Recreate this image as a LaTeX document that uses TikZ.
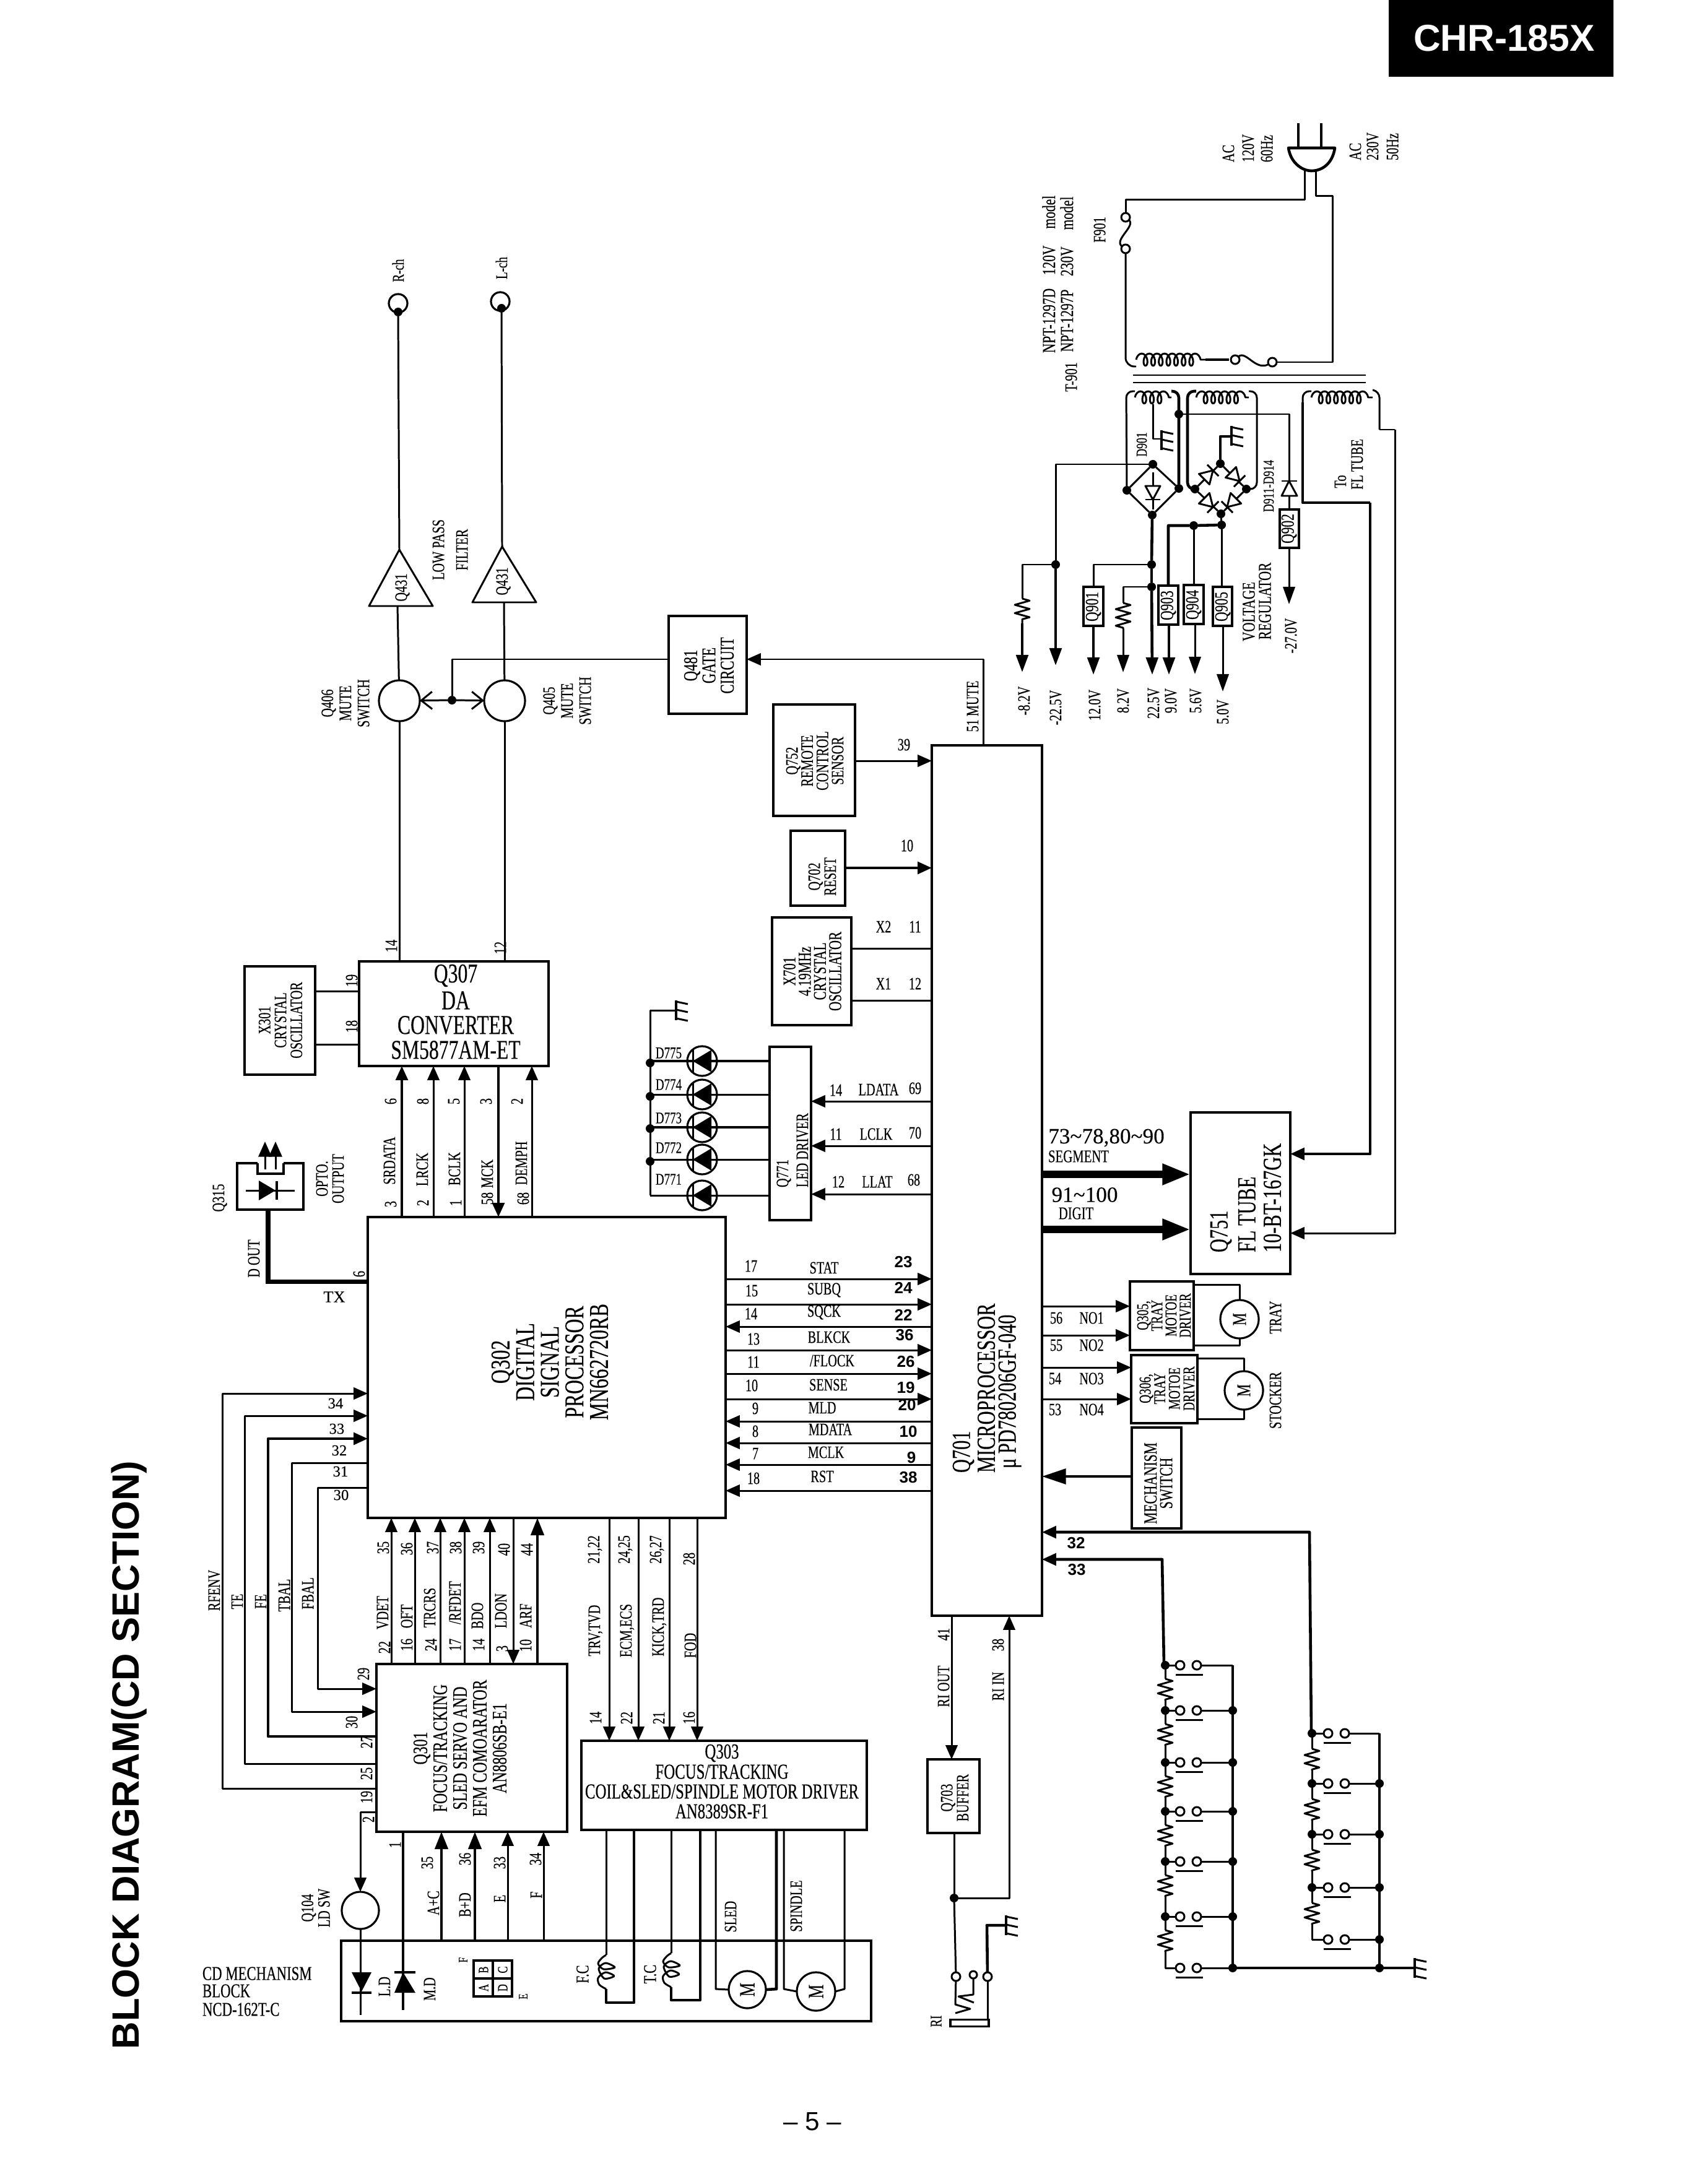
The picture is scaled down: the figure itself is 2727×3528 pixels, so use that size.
\documentclass[tikz,border=0pt]{standalone}
\usepackage{fontspec}
\setmainfont[FakeStretch=0.72,FakeBold=0.2]{Liberation Serif}
\newfontfamily\wsf[FakeBold=0.2]{Liberation Serif}
\newfontfamily\hsf{Liberation Sans}
\usetikzlibrary{arrows.meta,decorations.pathmorphing}
\newcount\tn
\tikzset{
 wire/.style={line width=0.85pt,line join=round},
 thk/.style={line width=1.3pt,line join=round},
 vth/.style={line width=3.4pt},
 ar/.style={-{Triangle[length=6.5pt,width=5.5pt]}},
 arp/.style={-{Triangle[length=8pt,width=5.5pt]}},
 arb/.style={-{Triangle[length=13pt,width=9pt]}},
 arm/.style={-{Triangle[length=8pt,width=6pt]}},
 barb/.style={-{Straight Barb[length=5pt,width=8pt]}},
 box/.style={draw,line width=0.9pt,inner sep=0pt,outer sep=0pt},
 lbl/.style={inner sep=0pt,outer sep=0pt},
 dotn/.style={circle,fill=black,inner sep=0pt,outer sep=0pt,minimum size={14*0.01cm}},
 oc/.style={circle,draw,line width=0.85pt,fill=white,inner sep=0pt,outer sep=0pt,minimum size={14*0.01cm}},
 rnd/.style={circle,draw,line width=0.9pt,inner sep=0pt,outer sep=0pt},
 cl/.style={decorate,decoration={coil,aspect=0.6,amplitude=2.8pt,segment length=3.5pt}},
 zg/.style={decorate,decoration={zigzag,amplitude=3.4pt,segment length=3.8pt}},
}
% text helpers
\newcommand\rtx[4]{\global\advance\tn by 1\relax\node[lbl,rotate=90,font={\fontsize{#1}{#1}\selectfont}] (t\the\tn) at (#2,#3) {#4};}
\newcommand\rtw[4]{\global\advance\tn by 1\relax\node[lbl,rotate=90,anchor=west,font={\fontsize{#1}{#1}\selectfont}] (t\the\tn) at (#2,#3) {#4};}
\newcommand\rml[5]{\global\advance\tn by 1\relax\node[lbl,rotate=90,align=center,font={\fontsize{#1}{#2}\selectfont}] (t\the\tn) at (#3,#4) {#5};}
\newcommand\htx[4]{\global\advance\tn by 1\relax\node[lbl,font={\fontsize{#1}{#1}\selectfont}] (t\the\tn) at (#2,#3) {#4};}
\newcommand\hwd[4]{\global\advance\tn by 1\relax\node[lbl,font={\wsf\fontsize{#1}{#1}\selectfont}] (t\the\tn) at (#2,#3) {#4};}
\newcommand\hlf[4]{\global\advance\tn by 1\relax\node[lbl,anchor=west,font={\fontsize{#1}{#1}\selectfont}] (t\the\tn) at (#2,#3) {#4};}
\newcommand\bnm[3]{\global\advance\tn by 1\relax\node[lbl,font={\hsf\bfseries\fontsize{7.4}{7.4}\selectfont}] (t\the\tn) at (#1,#2) {#3};}
% shapes
\newcommand\bx[6][box]{\node[#1,minimum width={(#5-#3)*0.01cm},minimum height={(#6-#4)*0.01cm}] (#2) at ({(#3+#5)/2},{(#4+#6)/2}) {};}
\newcommand\vc[4][wire]{\draw[#1] (#3 -| #2,0) -- (#4 -| #2,0);}
\newcommand\hc[4][wire]{\draw[#1] (#3 |- 0,#2) -- (#4 |- 0,#2);}
\newcommand\dt[2]{\global\advance\tn by 1\relax\node[dotn] (d\the\tn) at (#1,#2) {};}
\newcommand\gnd[2]{\draw[thk] (#1,{#2-16}) -- (#1,{#2+16});
 \foreach \k in {-14,-1,13}{\draw[wire] (#1,{#2+\k}) -- ({#1+19},{#2+\k+4});}}
\newcommand\dio[3]{\begin{scope}[shift={(#1,#2)},rotate=#3]
 \draw[wire,fill=white] (-10,-12) -- (10,0) -- (-10,12) -- cycle; \draw[wire] (10,-13) -- (10,13);\end{scope}}
\newcommand\zz[3]{\draw[wire,zg] (#1,#2) -- (#1,#3);}
\newcommand\fcoil[2]{\begin{scope}[shift={(#1,#2)}]
 \draw[wire] plot[smooth] coordinates {(979,3158) (972,3163) (966,3172) (975,3181) (993,3178) (978,3171) (967,3180) (976,3196) (992,3192) (978,3186) (966,3195) (968,3206) (979,3213)};\end{scope}}
\newcommand\swt[4]{\global\advance\tn by 1\relax
 \node[oc] (pa\the\tn) at (#3,#2) {};
 \node[oc] (pb\the\tn) at ({#3+27},#2) {};
 \coordinate (la\the\tn) at (#1,#2);
 \coordinate (bu\the\tn) at (#4,#2);
 \draw[wire] (la\the\tn) -- (pa\the\tn);
 \draw[wire] (pb\the\tn) -- (bu\the\tn);
 \draw[wire] ({#3-7},{#2+15}) -- ({#3+37},{#2+15});}
\newcommand\led[2]{\global\advance\tn by 1\relax
 \node[rnd,minimum size={48*0.01cm}] (le\the\tn) at (1134,#1) {};
 \fill (1119,#1) -- (1149,{#1-18}) -- (1149,{#1+18}) -- cycle;
 \draw[wire] (1119,{#1-18}) -- (1119,{#1+18});
 \draw[#2] (q771.west |- 0,#1) -- (1050,#1);}
\begin{document}
\begin{tikzpicture}[x=0.01cm,y=-0.01cm]
\useasboundingbox (0,0) rectangle (2727,3528);
\fill[white] (0,0) rectangle (2727,3528);
% header, title, page number
\node[fill=black,text=white,inner sep=0pt,minimum width={363*0.01cm},minimum height={124*0.01cm},font={\hsf\bfseries\fontsize{17.2}{17.2}\selectfont}] (hdr) at (2424,62) {\hspace*{3pt}CHR-185X};
\node[lbl,rotate=90,font={\hsf\bfseries\fontsize{17.5}{18}\selectfont}] (ttl) at (209,2835) {BLOCK DIAGRAM(CD SECTION)};
\node[lbl,font={\hsf\fontsize{12}{12}\selectfont}] (pg) at (1312,3427) {– 5 –};

% ===== boxes
\bx{q302}{594}{1966}{1172}{2452}
\bx{q307}{580}{1553}{886}{1722}
\bx{x301}{395}{1561}{509}{1736}
\bx{q701}{1505}{1204}{1683}{2610}
\bx{q771}{1243}{1691}{1310}{1971}
\bx{x701}{1247}{1482}{1375}{1656}
\bx{q702}{1277}{1342}{1365}{1463}
\bx{q752}{1249}{1138}{1381}{1318}
\bx{q481}{1080}{995}{1206}{1153}
\bx{q751}{1923}{1797}{2084}{2058}
\bx{q305}{1825}{2070}{1928}{2181}
\bx{q306}{1827}{2189}{1934}{2299}
\bx{mech}{1828}{2306}{1908}{2469}
\bx{q703}{1498}{2842}{1582}{2961}
\bx{q301}{608}{2688}{916}{2959}
\bx{q303}{939}{2812}{1400}{2956}
\bx{cdm}{551}{3135}{1407}{3265}
\bx{q315a}{383}{1879}{490}{1954}
\node[rnd,minimum size={66*0.01cm}] (q406) at (645,1132) {};
\node[rnd,minimum size={66*0.01cm}] (q405) at (815,1132) {};
\node[rnd,minimum size={60*0.01cm}] (q104) at (582,3086) {};
\node[rnd,minimum size={62*0.01cm}] (m305) at (2002,2131) {\rotatebox{90}{\fontsize{9}{9}\selectfont M}};
\node[rnd,minimum size={62*0.01cm}] (m306) at (2009,2246) {\rotatebox{90}{\fontsize{9}{9}\selectfont M}};
\node[rnd,minimum size={60*0.01cm}] (msl) at (1207,3214) {\rotatebox{90}{\fontsize{10}{10}\selectfont M}};
\node[rnd,minimum size={62*0.01cm}] (msp) at (1318,3217) {\rotatebox{90}{\fontsize{10}{10}\selectfont M}};

% ===== audio outputs
\node[rnd,minimum size={30*0.01cm}] (rch) at (643,490) {};
\node[rnd,minimum size={30*0.01cm}] (lch) at (808,487) {};
\node[dotn] (rd) at (643,504) {};
\node[dotn] (ld) at (810,498) {};
\coordinate (ra) at (645,888); \coordinate (rb) at (642,979);
\coordinate (la) at (811,883); \coordinate (lb) at (814,973);
\draw[wire] (ra) -- (699,979) -- (596,979) -- cycle;
\draw[wire] (la) -- (866,973) -- (763,973) -- cycle;
\draw[wire] (rd) -- (ra); \draw[wire] (ld) -- (la);
\draw[wire] (rb) -- (q406); \draw[wire] (lb) -- (q405);
\vc[wire]{645}{q406.south}{q307.north}
\vc[wire]{815}{q405.south}{q307.north}
\node[dotn] (dm) at (730,1131) {};
\draw[wire,barb] (dm) -- (q406);
\draw[wire,barb] (dm) -- (q405);
\draw[wire] (dm) -- (730,1065) -- (q481.west |- 0,1065);
\draw[wire,ar] (q701.north -| 1588,0) -- (1588,1065) -- (q481.east |- 0,1065);
\rtx{7.5}{643}{437}{R-ch}
\rtx{7.5}{810}{433}{L-ch}
\rtx{8}{650}{949}{Q431}
\rtx{8}{813}{939}{Q431}
\rml{8}{10.8}{727}{888}{LOW PASS\\FILTER}
\rml{8}{8.3}{558}{1136}{Q406\\MUTE\\SWITCH}
\rml{8}{8.3}{916}{1132}{Q405\\MUTE\\SWITCH}
\rml{9}{8.4}{1145}{1075}{Q481\\GATE\\CIRCUIT}
\rtx{8}{1571}{1141}{51 MUTE}
\rml{8}{7}{1316}{1229}{Q752\\REMOTE\\CONTROL\\SENSOR}
\hc[wire,ar]{1229}{q752.east}{q701.west}
\htx{8}{1460}{1203}{39}
\rml{8}{7.3}{1328}{1416}{Q702\\RESET}
\hc[thk,ar]{1402}{q702.east}{q701.west}
\htx{8}{1465}{1366}{10}
\rml{8.3}{7}{1312}{1569}{X701\\4.19MHz\\CRYSTAL\\OSCILLATOR}
\hc{1532}{x701.east}{q701.west}
\hc{1616}{x701.east}{q701.west}
\htx{8}{1427}{1497}{X2}\htx{8}{1478}{1497}{11}
\htx{8}{1427}{1589}{X1}\htx{8}{1478}{1589}{12}

% ===== Q307 / X301
\htx{12.5}{736}{1576}{Q307}
\htx{12.5}{736}{1616}{DA}
\htx{12.5}{736}{1656}{CONVERTER}
\htx{12.5}{736}{1696}{SM5877AM-ET}
\rml{8}{7.3}{453}{1648}{X301\\CRYSTAL\\OSCILLATOR}
\hc{1601}{x301.east}{q307.west}
\hc[wire]{1687}{x301.east}{q307.west}
\rtx{8}{568}{1584}{19}\rtx{8}{568}{1658}{18}
\rtx{8}{632}{1528}{14}\rtx{8}{808}{1531}{12}

% ===== Q302 - Q307
\vc[thk,ar]{649}{q302.north}{q307.south}
\vc[wire,ar]{700}{q302.north}{q307.south}
\vc[wire,ar]{750}{q302.north}{q307.south}
\vc[thk,ar]{805}{q307.south}{q302.north}
\vc[wire,ar]{859}{q302.north}{q307.south}
\rtx{8}{631}{1779}{6}\rtx{8}{629}{1875}{SRDATA}\rtx{8}{631}{1945}{3}
\rtx{8}{683}{1779}{8}\rtx{8}{682}{1889}{LRCK}\rtx{8}{683}{1943}{2}
\rtx{8}{733}{1779}{5}\rtx{8}{734}{1888}{BCLK}\rtx{8}{736}{1943}{1}
\rtx{8}{785}{1779}{3}\rtx{8}{787}{1896}{MCK}\rtx{8}{787}{1936}{58}
\rtx{8}{835}{1779}{2}\rtx{8}{842}{1879}{DEMPH}\rtx{8}{845}{1936}{68}

% ===== Q315 opto
\fill[white] (416,1874) rectangle (458,1896);
\draw[box] (416,1879) -- (416,1896) -- (458,1896) -- (458,1879);
\coordinate (o1) at (397,1923); \coordinate (o2) at (476,1923);
\draw[wire] (o1) -- (o2);
\fill (418,1907) -- (445,1923) -- (418,1939) -- cycle;
\draw[thk] (447,1908) -- (447,1938);
\draw[wire,-{Triangle[length=7pt,width=6pt]}] (428,1889) -- (428,1844);
\draw[wire,-{Triangle[length=7pt,width=6pt]}] (445,1889) -- (445,1844);
\rtx{8}{355}{1935}{Q315}
\rml{8}{7.4}{533}{1904}{OPTO.\\OUTPUT}
\draw[line width=2pt] (q315a.south -| 433,0) -- (433,2070) -- (q302.west |- 0,2070);
\rtx{8}{410}{2033}{D OUT}
\rtx{8}{580}{2058}{6}
\hwd{7.5}{540}{2095}{TX}

% ===== Q302 text
\rml{12.5}{11.3}{888}{2200}{Q302\\DIGITAL\\SIGNAL\\PROCESSOR\\MN662720RB}

% ===== Q302 - Q301 left links
\draw[wire,ar] (q301.west |- 0,2889) -- (359,2889) -- (359,2251) -- (q302.west |- 0,2251);
\draw[wire,ar] (q301.west |- 0,2849) -- (395,2849) -- (395,2287) -- (q302.west |- 0,2287);
\draw[thk,ar] (q301.west |- 0,2805) -- (433,2805) -- (433,2324) -- (q302.west |- 0,2324);
\draw[wire,ar] (q302.west |- 0,2363) -- (471,2363) -- (471,2765) -- (q301.west |- 0,2765);
\draw[wire,ar] (q302.west |- 0,2403) -- (513,2403) -- (513,2728) -- (q301.west |- 0,2728);
\hwd{7}{542}{2267}{34}\hwd{7}{544}{2308}{33}\hwd{7}{548}{2343}{32}\hwd{7}{550}{2377}{31}\hwd{7}{551}{2415}{30}
\rtx{8}{346}{2569}{RFENV}\rtx{8}{383}{2587}{TE}\rtx{8}{421}{2587}{FE}\rtx{8}{459}{2577}{TBAL}\rtx{8}{497}{2574}{FBAL}
\rtx{8}{587}{2704}{29}\rtx{8}{568}{2782}{30}\rtx{8}{592}{2814}{27}\rtx{8}{592}{2865}{25}\rtx{8}{592}{2903}{19}\rtx{8}{595}{2939}{2}

% ===== Q301 top
\vc[wire,ar]{632}{q301.north}{q302.south}
\vc[wire,ar]{670}{q301.north}{q302.south}
\vc[wire,ar]{711}{q301.north}{q302.south}
\vc[wire,ar]{750}{q301.north}{q302.south}
\vc[wire,ar]{791}{q301.north}{q302.south}
\vc[wire,ar]{829}{q302.south}{q301.north}
\vc[thk,arm]{868}{q301.north}{q302.south}
\rtx{8}{619}{2500}{35}\rtx{8}{657}{2502}{36}\rtx{8}{699}{2500}{37}\rtx{8}{736}{2500}{38}\rtx{8}{773}{2500}{39}\rtx{8}{814}{2503}{40}\rtx{8}{851}{2503}{44}
\rtx{8}{618}{2605}{VDET}\rtx{8}{621}{2661}{22}
\rtx{8}{657}{2611}{OFT}\rtx{8}{657}{2657}{16}
\rtx{8}{694}{2597}{TRCRS}\rtx{8}{696}{2657}{24}
\rtx{8}{735}{2589}{/RFDET}\rtx{8}{735}{2657}{17}
\rtx{8}{771}{2610}{BDO}\rtx{8}{773}{2657}{14}
\rtx{8}{809}{2602}{LDON}\rtx{8}{811}{2663}{3}
\rtx{8}{849}{2610}{ARF}\rtx{8}{849}{2658}{10}
\rml{9.4}{9.1}{743}{2824}{Q301\\FOCUS/TRACKING\\SLED SERVO AND\\EFM COMOARATOR\\AN8806SB-E1}

% ===== Q303
\vc[wire,ar]{984}{q302.south}{q303.north}
\vc[wire,ar]{1031}{q302.south}{q303.north}
\vc[wire,ar]{1081}{q302.south}{q303.north}
\vc[wire,ar]{1126}{q302.south}{q303.north}
\rtx{8}{961}{2503}{21,22}\rtx{8}{1010}{2503}{24,25}\rtx{8}{1061}{2503}{26,27}\rtx{8}{1113}{2518}{28}
\rtx{8}{962}{2634}{TRV,TVD}\rtx{8}{1013}{2634}{ECM,ECS}\rtx{8}{1065}{2628}{KICK,TRD}\rtx{8}{1115}{2658}{FOD}
\rtx{8}{962}{2775}{14}\rtx{8}{1012}{2775}{22}\rtx{8}{1064}{2775}{21}\rtx{8}{1113}{2775}{16}
\htx{9.8}{1166}{2832}{Q303}
\htx{9.8}{1166}{2862}{FOCUS/TRACKING}
\htx{9.8}{1166}{2894}{COIL\&SLED/SPINDLE MOTOR DRIVER}
\htx{9.8}{1166}{2926}{AN8389SR-F1}

% ===== mech block
\draw[wire] (q301.west |- 0,2927) -- (582,2927);
\draw[wire,ar] (582,2927) -- (q104.north);
\coordinate (ldend) at (582,3255);
\draw[wire] (q104.south) -- (ldend);
\fill (568,3186) -- (600,3186) -- (584,3217) -- cycle;
\draw[thk] (568,3219) -- (600,3219);
\coordinate (mdend) at (651,3247);
\draw[thk] (q301.south -| 651,0) -- (mdend);
\fill (651,3186) -- (671,3219) -- (637,3219) -- cycle;
\draw[thk] (637,3186) -- (671,3186);
\rtx{8}{621}{3209}{L.D}\rtx{8}{694}{3213}{M.D}
\vc[thk,arm]{713}{cdm.north}{q301.south}
\vc[thk,arm]{767}{cdm.north}{q301.south}
\vc[wire,ar]{820}{cdm.north}{q301.south}
\vc[wire,ar]{878}{cdm.north}{q301.south}
\rtx{8}{638}{2980}{1}
\rtx{8}{690}{3009}{35}\rtx{8}{751}{3003}{36}\rtx{8}{807}{3009}{33}\rtx{8}{865}{3003}{34}
\rtx{8}{700}{3074}{A+C}\rtx{8}{751}{3077}{B+D}\rtx{8}{807}{3067}{E}\rtx{8}{866}{3061}{F}
\rml{8}{6.5}{510}{3082}{Q104\\LD SW}
\draw[box] (765,3167) rectangle (827,3225);
\draw[box] (796,3167) -- (796,3225) (765,3196) -- (827,3196);
\rtx{6.5}{781}{3211}{A}\rtx{6.5}{781}{3182}{B}\rtx{6.5}{812}{3182}{C}\rtx{6.5}{812}{3211}{D}
\rtx{6}{748}{3166}{F}\rtx{6}{845}{3225}{E}
\draw[wire] (q303.south -| 979,0) -- (979,3158);
\draw[wire] (q303.south -| 1084,0) -- (1084,3155);
\fcoil{0}{0}
\fcoil{105}{-3}
\draw[thk] (979,3213) -- (979,3235) -- (1024,3235) -- (q303.south -| 1024,0);
\draw[thk] (1084,3210) -- (1084,3231) -- (1131,3231) -- (q303.south -| 1131,0);
\rtx{8.3}{941}{3189}{F.C}\rtx{8.3}{1050}{3189}{T.C}
\draw[wire] (q303.south -| 1156,0) -- (1156,3213) -- (msl.west);
\draw[thk] (q303.south -| 1254,0) -- (1254,3213) -- (msl.east);
\draw[wire] (q303.south -| 1266,0) -- (1266,3213) -- (msp.west);
\draw[wire] (q303.south -| 1364,0) -- (1364,3213) -- (msp.east);
\rtx{8}{1180}{3096}{SLED}\rtx{8}{1286}{3079}{SPINDLE}
\hlf{9}{327}{3188}{CD MECHANISM}
\hlf{9}{327}{3216}{BLOCK}
\hlf{9}{327}{3246}{NCD-162T-C}

% ===== Q771 and LEDs
\rtw{8}{1266}{1918}{Q771}
\rtw{8}{1296}{1918}{LED DRIVER}
\hc[wire,ar]{1779}{q701.west}{q771.east}
\hc[wire,ar]{1851}{q701.west}{q771.east}
\hc[wire,ar]{1929}{q701.west}{q771.east}
\htx{8}{1350}{1761}{14}\htx{8}{1419}{1760}{LDATA}\htx{8}{1478}{1758}{69}
\htx{8}{1350}{1832}{11}\htx{8}{1415}{1832}{LCLK}\htx{8}{1478}{1830}{70}
\htx{8}{1354}{1909}{12}\htx{8}{1417}{1909}{LLAT}\htx{8}{1476}{1906}{68}
\led{1714}{thk}\led{1768}{wire}\led{1821}{thk}\led{1873}{wire}\led{1931}{wire}
\draw[wire] (1050,1931) -- (1050,1632) -- (1092,1632);
\gnd{1092}{1632}
\dt{1050}{1717}\dt{1050}{1771}\dt{1050}{1823}\dt{1050}{1876}
\htx{7.5}{1080}{1701}{D775}\htx{7.5}{1080}{1752}{D774}\htx{7.5}{1080}{1806}{D773}\htx{7.5}{1080}{1854}{D772}\htx{7.5}{1080}{1905}{D771}

% ===== Q302 <-> Q701
\hc[wire,ar]{2066}{q302.east}{q701.west}
\hc[wire,ar]{2107}{q302.east}{q701.west}
\hc[wire,ar]{2143}{q701.west}{q302.east}
\hc[wire,ar]{2181}{q302.east}{q701.west}
\hc[wire,ar]{2219}{q302.east}{q701.west}
\hc[wire,ar]{2260}{q302.east}{q701.west}
\hc[wire,ar]{2296}{q701.west}{q302.east}
\hc[wire,ar]{2331}{q701.west}{q302.east}
\hc[wire,ar]{2366}{q701.west}{q302.east}
\hc[wire,ar]{2408}{q701.west}{q302.east}
\htx{8}{1213}{2045}{17}\htx{8}{1331}{2048}{STAT}\bnm{1459}{2039}{23}
\htx{8}{1214}{2085}{15}\htx{8}{1331}{2084}{SUBQ}\bnm{1459}{2080}{24}
\htx{8}{1213}{2122}{14}\htx{8}{1331}{2120}{SQCK}\bnm{1459}{2124}{22}
\htx{8}{1217}{2163}{13}\htx{8}{1339}{2160}{BLKCK}\bnm{1461}{2157}{36}
\htx{8}{1217}{2200}{11}\htx{8}{1344}{2198}{/FLOCK}\bnm{1463}{2200}{26}
\htx{8}{1214}{2238}{10}\htx{8}{1338}{2237}{SENSE}\bnm{1463}{2242}{19}
\htx{8}{1220}{2275}{9}\htx{8}{1328}{2274}{MLD}\bnm{1465}{2270}{20}
\htx{8}{1220}{2312}{8}\htx{8}{1341}{2309}{MDATA}\bnm{1467}{2313}{10}
\htx{8}{1220}{2348}{7}\htx{8}{1334}{2346}{MCLK}\bnm{1472}{2355}{9}
\htx{8}{1217}{2388}{18}\htx{8}{1328}{2385}{RST}\bnm{1467}{2387}{38}

% ===== Q701 text
\rtw{12}{1556}{2379}{Q701}
\rtw{12}{1593}{2379}{MICROPROCESSOR}
\rtw{12}{1631}{2372}{μ PD780206GF-040}

% ===== FL tube
\hc[vth,arb]{1897}{q701.east}{q751.west}
\hc[vth,arb]{1986}{q701.east}{q751.west}
\hwd{10}{1787}{1838}{73\textasciitilde 78,80\textasciitilde 90}
\htx{8.2}{1742}{1868}{SEGMENT}
\hwd{10}{1752}{1930}{91\textasciitilde 100}
\htx{8.2}{1738}{1960}{DIGIT}
\rtw{12}{1972}{2023}{Q751}
\rtw{12}{2014}{2023}{FL TUBE}
\rtw{12}{2055}{2023}{10-BT-167GK}

% ===== motors
\hc[wire,ar]{2110}{q701.east}{q305.west}
\hc[wire,ar]{2157}{q701.east}{q305.west}
\hc[wire,ar]{2209}{q701.east}{q306.west}
\hc[wire,ar]{2260}{q701.east}{q306.west}
\htx{8}{1706}{2129}{56}\htx{8}{1763}{2129}{NO1}
\htx{8}{1706}{2173}{55}\htx{8}{1763}{2173}{NO2}
\htx{8}{1704}{2227}{54}\htx{8}{1763}{2227}{NO3}
\htx{8}{1704}{2277}{53}\htx{8}{1763}{2277}{NO4}
\rml{7.6}{6.5}{1880}{2125}{Q305,\\TRAY\\MOTOE\\DRIVER}
\rml{7.6}{6.7}{1885}{2243}{Q306,\\TRAY\\MOTOE\\DRIVER}
\draw[wire] (q305.east |- 0,2075) -- (2002,2075) -- (m305.north);
\draw[wire] (q305.east |- 0,2173) -- (2002,2173) -- (m305.south);
\draw[wire] (q306.east |- 0,2194) -- (2009,2194) -- (m306.north);
\draw[wire] (q306.east |- 0,2292) -- (2009,2292) -- (m306.south);
\rtx{8}{2060}{2128}{TRAY}
\rtx{8}{2060}{2262}{STOCKER}
\rml{8.5}{7.2}{1871}{2396}{MECHANISM\\SWITCH}
\hc[thk,-{Triangle[length=11pt,width=7pt]}]{2385}{mech.west}{q701.east}

% ===== key ladders
\draw[thk,ar] (1880,2690) -- (1877,2519) -- (q701.east |- 0,2519);
\draw[thk,ar] (2118,2800) -- (2115,2475) -- (q701.east |- 0,2475);
\bnm{1738}{2493}{32}
\bnm{1739}{2536}{33}
\foreach \y/\z in {2690/2763,2763/2847,2847/2926,2926/3007,3007/3096,3096/3155}{
 \draw[wire] (1882,\y) -- (1882,{\y+22}); \zz{1882}{\y+22}{\y+57}; \draw[wire] (1882,{\y+57}) -- (1882,\z);}
\draw[wire] (1882,3155) -- (1882,3179) -- (1906,3179);
\foreach \y/\z in {2800/2881,2881/2963,2963/3049,3049/3125}{
 \draw[wire] (2119,\y) -- (2119,{\y+25}); \zz{2119}{\y+25}{\y+60}; \draw[wire] (2119,{\y+60}) -- (2119,\z);}
\draw[wire] (2119,3125) -- (2119,3133) -- (2145,3133);
\foreach \y in {2690,2763,2847,2926,3007,3096}{\swt{1882}{\y}{1906}{1991}\dt{1882}{\y}}
\swt{1906}{3179}{1906}{1991}
\foreach \y in {2763,2847,2926,3007,3096,3179}{\dt{1991}{\y}}
\foreach \y in {2800,2881,2963,3049}{\swt{2119}{\y}{2145}{2228}\dt{2119}{\y}}
\swt{2145}{3133}{2145}{2228}
\foreach \y in {2881,2963,3049,3133,3179}{\dt{2228}{\y}}
\draw[thk] (1991,2690) -- (1991,3179) -- (2285,3179);
\draw[thk] (2228,2800) -- (2228,3179);
\gnd{2285}{3179}

% ===== Q703 / RI
\vc[wire,ar]{1537}{q701.south}{q703.north}
\node[dotn] (ju) at (1541,3066) {};
\draw[wire] (q703.south -| 1541,0) -- (ju);
\draw[wire,ar] (ju) -- (1630,3066) -- (q701.south -| 1630,0);
\rml{8}{7.3}{1542}{2904}{Q703\\BUFFER}
\rtx{8}{1524}{2640}{41}\rtx{8}{1524}{2724}{RI OUT}
\rtx{8}{1612}{2657}{38}\rtx{8}{1612}{2724}{RI IN}
\node[oc] (j1) at (1544,3193) {};
\node[oc,minimum size={12*0.01cm}] (j2) at (1572,3190) {};
\node[oc] (j3) at (1595,3193) {};
\draw[wire] (ju) -- (j1);
\draw[wire] (j1) -- (1543,3238) -- (1567,3245) -- (1543,3252);
\draw[wire] (j2) -- (1572,3222) -- (1548,3225) -- (1573,3235);
\node[box,minimum width={62*0.01cm},minimum height={11*0.01cm}] (slv) at (1566,3268) {};
\draw[wire] (j3) -- (slv.north -| 1595,0);
\draw[thk] (j3) -- (1594,3110) -- (1625,3110);
\gnd{1625}{3110}
\rtx{7.5}{1512}{3265}{RI}

% ===== power supply
\draw[thk] (2097,199) -- (2097,239); \draw[thk] (2134,199) -- (2134,239);
\draw[thk] (2081,239) .. controls (2085,265) and (2105,276) .. (2118,276) .. controls (2135,276) and (2152,265) .. (2156,239) -- cycle;
\node[oc] (fa) at (1818,351) {};
\node[oc] (fb) at (1818,402) {};
\draw[wire] (fa) .. controls (1835,365) and (1798,388) .. (fb);
\draw[wire] (2107,276) -- (2107,323) -- (1818,323) -- (fa);
\draw[wire,rounded corners=4pt] (fb) -- (1818,592) -- (1835,592);
\draw[wire,cl] (1835,581) -- (1947,581);
\draw[thk] (1947,581) -- (1985,581);
\node[oc] (fc) at (1995,581) {};
\node[oc] (fd) at (2055,585) {};
\draw[wire] (fc) .. controls (2012,565) and (2028,600) .. (fd);
\draw[wire] (fd) -- (2152,585) -- (2152,317) -- (2125,317) -- (2125,276);
\draw[wire] (1830,606) -- (2206,606);
\draw[wire] (1830,618) -- (2206,618);
% coil A and bridge D901
\draw[wire,cl] (1833,642) -- (1892,642);
\node[dotn] (bT) at (1862,750) {};
\node[dotn] (bL) at (1820,792) {};
\node[dotn] (bR) at (1904,789) {};
\node[dotn] (bB) at (1861,832) {};
\draw[wire] (bT) -- (bL) -- (bB) -- (bR) -- (bT);
\draw[wire] (1862,763) -- (1862,823);
\draw[wire,fill=white] (1850,785) -- (1874,785) -- (1862,807) -- cycle;
\draw[wire] (1850,807) -- (1874,807);
\draw[wire,rounded corners=3pt] (bL) -- (1819,632) -- (1833,632);
\draw[thk,rounded corners=3pt] (bR) -- (1904,632) -- (1892,632);
\node[dotn] (tp) at (1904,669) {};
\draw[wire] (1862,653) -- (1862,709) -- (1876,709);
\gnd{1876}{711}
\rtx{7}{1844}{718}{D901}
% coil B and bridge
\draw[wire,cl] (1932,642) -- (2017,642);
\node[dotn] (cT) at (1971,749) {};
\node[dotn] (cL) at (1930,790) {};
\node[dotn] (cR) at (2013,790) {};
\node[dotn] (cB) at (1972,830) {};
\draw[wire] (cT) -- (cL) -- (cB) -- (cR) -- (cT);
\dio{1952}{767}{45}\dio{1995}{770}{-45}\dio{1952}{812}{-45}\dio{1989}{812}{-135}
\draw[thk,rounded corners=3pt] (cL) -- (1918,790) -- (1918,632) -- (1932,632);
\draw[wire,rounded corners=3pt] (cR) -- (2030,790) -- (2030,632) -- (2017,632);
\draw[thk] (cT) -- (1971,705) -- (1989,705);
\gnd{1989}{704}
% outputs
\node[dotn] (v1) at (1705,912) {};
\node[dotn] (v2) at (1860,912) {};
\node[dotn] (v3) at (1860,948) {};
\node[dotn] (v4) at (1973,848) {};
\node[dotn] (v5) at (1928,849) {};
\bx{q901}{1750}{948}{1782}{1011}
\bx{q903}{1871}{946}{1903}{1009}
\bx{q904}{1912}{945}{1944}{1008}
\bx{q905}{1959}{948}{1990}{1011}
\bx{q902}{2067}{823}{2098}{885}
\rtx{8.5}{1766}{980}{Q901}\rtx{8.5}{1887}{978}{Q903}\rtx{8.5}{1928}{977}{Q904}\rtx{8.5}{1975}{980}{Q905}\rtx{8.5}{2082}{854}{Q902}
\draw[wire] (bT) -- (1705,750) -- (v1);
\coordinate (a225) at (1705,1075);
\draw[thk,arp] (v1) -- (a225);
\coordinate (a82m) at (1651,1086);
\draw[wire] (v1) -- (1651,912) -- (1651,967);
\zz{1651}{967}{1007}
\draw[thk,arp] (1651,1007) -- (a82m);
\draw[thk] (bB) -- (v2);
\draw[thk] (v2) -- (v3);
\coordinate (a225p) at (1861,1090);
\draw[thk,arp] (v3) -- (a225p);
\draw[wire] (v2) -- (1766,912) -- (q901.north -| 1766,0);
\coordinate (a120) at (1766,1090);
\draw[thk,arp] (q901.south -| 1766,0) -- (a120);
\draw[wire] (v3) -- (1814,948) -- (1814,974);
\zz{1814}{974}{1016}
\coordinate (a82) at (1814,1086);
\draw[wire,arp] (1814,1016) -- (a82);
\draw[wire] (cB) -- (v4);
\draw[thk] (v4) -- (v5) -- (1887,849) -- (q903.north -| 1887,0);
\draw[wire] (v5) -- (q904.north -| 1928,0);
\draw[wire] (v4) -- (q905.north -| 1973,0);
\coordinate (a90) at (1888,1090);
\coordinate (a56) at (1930,1089);
\coordinate (a50) at (1975,1117);
\draw[thk,arp] (q903.south -| 1888,0) -- (a90);
\draw[wire,arp] (q904.south -| 1930,0) -- (a56);
\draw[wire,arp] (q905.south -| 1975,0) -- (a50);
\draw[wire] (tp) -- (2082,669) -- (2082,777);
\draw[wire,fill=white] (2070,801) -- (2082,777) -- (2095,801) -- cycle;
\draw[wire] (2070,777) -- (2095,777);
\draw[wire] (2082,801) -- (q902.north -| 2082,0);
\coordinate (a270) at (2082,976);
\draw[wire,arp] (q902.south -| 2082,0) -- (a270);
\rtx{8}{1654}{1132}{-8.2V}
\rtx{8}{1705}{1143}{-22.5V}
\rtx{8}{1768}{1139}{12.0V}
\rtx{8}{1814}{1132}{8.2V}
\rtx{8}{1863}{1136}{22.5V}
\rtx{8}{1891}{1132}{9.0V}
\rtx{8}{1931}{1132}{5.6V}
\rtx{8}{1975}{1150}{5.0V}
\rtx{8.3}{2017}{988}{VOLTAGE}
\rtx{8.3}{2043}{971}{REGULATOR}
\rtx{8}{2085}{1027}{-27.0V}
\rtx{7}{2049}{785}{D911-D914}
% coil C to FL tube
\draw[wire,cl] (2118,642) -- (2217,642);
\draw[wire,rounded corners=3pt] (2118,632) -- (2104,632) -- (2104,650);
\draw[thk] (2104,650) -- (2104,812) -- (2213,812);
\draw[thk,ar] (2213,812) -- (2213,1864) -- (q751.east |- 0,1864);
\draw[wire,rounded corners=3pt] (2217,630) -- (2228,632) -- (2228,694);
\draw[wire] (2228,694) -- (2253,694);
\draw[wire,ar] (2253,694) -- (2253,1992) -- (q751.east |- 0,1992);
\rtx{8}{2165}{778}{To}
\rtx{8}{2192}{750}{FL TUBE}
% texts of mains part
\rtx{8.5}{1694}{443}{NPT-1297D\ \ \ \ 120V\ \ \ \ \ model}
\rtx{8.5}{1723}{443}{NPT-1297P\ \ \ \ 230V\ \ \ \ \ model}
\rtx{8}{1730}{609}{T-901}
\rtx{8}{1776}{371}{F901}
\rtw{8}{1984}{262}{AC}\rtw{8}{2016}{262}{120V}\rtw{8}{2046}{262}{60Hz}
\rtw{8}{2189}{259}{AC}\rtw{8}{2217}{259}{230V}\rtw{8}{2249}{259}{50Hz}
\end{tikzpicture}
\end{document}
